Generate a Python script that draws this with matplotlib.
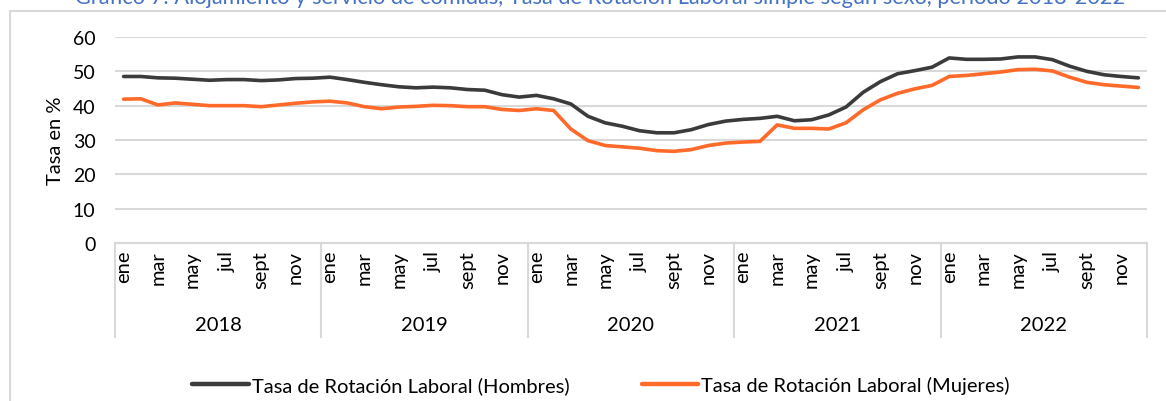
import matplotlib
matplotlib.use("Agg")
import matplotlib.pyplot as plt
from matplotlib.patches import Rectangle
import matplotlib.transforms as mtransforms

plt.rcParams['font.family'] = ['Lato', 'DejaVu Sans']

years = ["2018", "2019", "2020", "2021", "2022"]
month_labels = ["ene", "", "mar", "", "may", "", "jul", "", "sept", "", "nov", ""]

hombres = [
    48.5, 48.5, 48.1, 48.0, 47.7, 47.4, 47.6, 47.6, 47.3, 47.5, 47.9, 48.0,
    48.3, 47.6, 46.8, 46.1, 45.5, 45.2, 45.4, 45.2, 44.7, 44.5, 43.2, 42.5,
    43.0, 42.0, 40.5, 36.9, 35.0, 34.0, 32.7, 32.1, 32.1, 33.0, 34.5, 35.5,
    36.0, 36.3, 36.9, 35.6, 35.9, 37.3, 39.6, 43.9, 47.0, 49.3, 50.2, 51.2,
    53.9, 53.5, 53.5, 53.6, 54.2, 54.2, 53.4, 51.5, 50.0, 49.0, 48.5, 48.1,
]
mujeres = [
    41.9, 42.0, 40.2, 40.8, 40.4, 40.0, 40.0, 40.0, 39.7, 40.2, 40.7, 41.1,
    41.3, 40.8, 39.7, 39.1, 39.6, 39.8, 40.1, 40.0, 39.7, 39.7, 38.9, 38.6,
    39.1, 38.6, 33.2, 29.8, 28.4, 28.0, 27.6, 26.9, 26.7, 27.2, 28.4, 29.1,
    29.4, 29.6, 34.4, 33.4, 33.4, 33.2, 35.0, 38.8, 41.7, 43.6, 44.9, 45.9,
    48.5, 48.8, 49.3, 49.8, 50.5, 50.6, 50.1, 48.3, 46.8, 46.1, 45.7, 45.3,
]
name_h = "Tasa de Rotación Laboral (Hombres)"
name_m = "Tasa de Rotación Laboral (Mujeres)"
title = "Gráfico 7: Alojamiento y servicio de comidas, Tasa de Rotación Laboral simple según sexo, período 2018-2022"

W, H = 1166, 402
fig = plt.figure(figsize=(W / 100, H / 100), dpi=100)

# outer frame
fig.patches.append(Rectangle((10 / W, -0.1), 1.2, 1 - 12 / H + 0.1, transform=fig.transFigure,
                             fill=False, edgecolor="#D9D9D9", linewidth=1.5))

ax = fig.add_axes([115 / W, 1 - 244 / H, (1147 - 115) / W, (244 - 38) / H])
n = len(hombres)
x = list(range(n))
ax.plot(x, hombres, color="#3B3B3B", linewidth=2.6, label=name_h, solid_capstyle="round")
ax.plot(x, mujeres, color="#FF6A2A", linewidth=2.6, label=name_m, solid_capstyle="round")

ax.set_xlim(-0.5, n - 0.5)
ax.set_ylim(0, 60)
ax.set_yticks(range(0, 61, 10))
ax.grid(axis="y", color="#D9D9D9", linewidth=1.5)
ax.set_axisbelow(True)
for s in ["top", "right", "left"]:
    ax.spines[s].set_visible(False)
ax.spines["bottom"].set_color("#D9D9D9")
ax.spines["bottom"].set_linewidth(1.5)
ax.tick_params(axis="y", length=0, labelsize=14, pad=14, labelcolor="#000000")
ax.set_ylabel("Tasa en %", fontsize=14.5, labelpad=6)

ticks = [i for i in range(n) if month_labels[i % 12]]
ax.set_xticks(ticks)
ax.set_xticklabels([month_labels[i % 12] for i in ticks], rotation=90, fontsize=14.5)
ax.tick_params(axis="x", length=0, pad=5)

trans = mtransforms.blended_transform_factory(ax.transData, ax.transAxes)
for k in range(len(years) + 1):
    xs = k * 12 - 0.5
    ax.plot([xs, xs], [0, -0.456], transform=trans, clip_on=False, color="#D9D9D9", linewidth=1.5)
for k, yr in enumerate(years):
    ax.text(k * 12 + 5.5, -0.395, yr, transform=trans, ha="center", va="center", fontsize=14.5)

fig.text(600 / W, 1 - 4 / H, title, ha="center", va="baseline", fontsize=15.7, color="#4472C4")

leg = fig.legend(loc="center", bbox_to_anchor=(601 / W, 1 - 386 / H), ncol=2, frameon=False,
                 fontsize=14.5, handlelength=2.8, handletextpad=0.15, columnspacing=3.6)
for line in leg.get_lines():
    line.set_linewidth(3.2)

fig.savefig("out.png", dpi=100)
